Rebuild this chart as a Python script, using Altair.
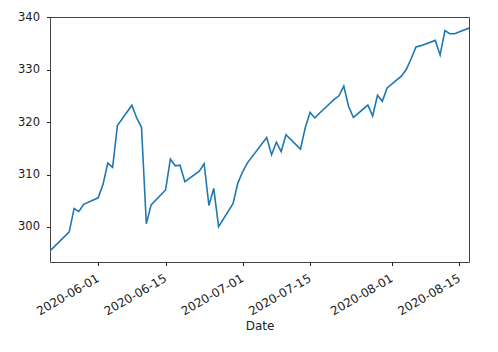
import altair as alt
import pandas as pd

dates = [
    "2020-05-22", "2020-05-26", "2020-05-27", "2020-05-28", "2020-05-29",
    "2020-06-01", "2020-06-02", "2020-06-03", "2020-06-04", "2020-06-05",
    "2020-06-08", "2020-06-09", "2020-06-10", "2020-06-11", "2020-06-12",
    "2020-06-15", "2020-06-16", "2020-06-17", "2020-06-18", "2020-06-19",
    "2020-06-22", "2020-06-23", "2020-06-24", "2020-06-25", "2020-06-26",
    "2020-06-29", "2020-06-30", "2020-07-01", "2020-07-02", "2020-07-06",
    "2020-07-07", "2020-07-08", "2020-07-09", "2020-07-10", "2020-07-13",
    "2020-07-14", "2020-07-15", "2020-07-16", "2020-07-17", "2020-07-20",
    "2020-07-21", "2020-07-22", "2020-07-23", "2020-07-24", "2020-07-27",
    "2020-07-28", "2020-07-29", "2020-07-30", "2020-07-31", "2020-08-03",
    "2020-08-04", "2020-08-05", "2020-08-06", "2020-08-07", "2020-08-10",
    "2020-08-11", "2020-08-12", "2020-08-13", "2020-08-14", "2020-08-17",
]
values = [
    295.44, 299.08, 303.53, 302.97, 304.32,
    305.55, 308.08, 312.18, 311.36, 319.34,
    323.20, 320.79, 319.00, 300.61, 304.21,
    307.05, 312.96, 311.66, 311.78, 308.64,
    310.62, 312.05, 304.09, 307.35, 300.05,
    304.46, 308.36, 310.52, 312.23, 317.05,
    313.78, 316.18, 314.38, 317.59, 314.84,
    318.92, 321.85, 320.79, 321.72, 324.32,
    325.01, 326.86, 322.96, 320.88, 323.22,
    321.17, 325.12, 323.96, 326.52, 328.79,
    330.06, 332.11, 334.33, 334.57, 335.57,
    332.80, 337.44, 336.83, 336.84, 337.91,
]
x_ticks = ["2020-06-01", "2020-06-15", "2020-07-01", "2020-07-15", "2020-08-01", "2020-08-15"]
y_ticks = [300, 310, 320, 330, 340]


def dt(s):
    y, m, d = (int(p) for p in s.split("-"))
    return alt.DateTime(year=y, month=m, date=d, utc=True)


df = pd.DataFrame({"Date": dates, "value": values})

font = "DejaVu Sans"

chart = (
    alt.Chart(df)
    .mark_line(color="#1f77b4", strokeWidth=1.6, clip=True)
    .encode(
        x=alt.X(
            "Date:T",
            scale=alt.Scale(type="utc", domain=[dt(dates[0]), dt(dates[-1])], nice=False),
            axis=alt.Axis(
                values=[dt(s) for s in x_ticks],
                labelExpr="utcFormat(datum.value, '%Y-%m-%d')",
                labelAngle=-30,
                labelAlign="right",
                labelBaseline="top",
                labelPadding=7,
                labelOffset=-3,
                tickSize=3.5,
                tickColor="#222",
                domain=False,
                grid=False,
                labelFont=font,
                labelFontSize=12,
                labelColor="#222",
                title="Date",
                titleFont=font,
                titleFontSize=12,
                titleFontWeight="normal",
                titleColor="#222",
                titlePadding=4,
                labelOverlap=False,
                labelBound=False,
                labelFlush=False,
            ),
        ),
        y=alt.Y(
            "value:Q",
            scale=alt.Scale(domain=[293.32, 340.03], nice=False, zero=False),
            axis=alt.Axis(
                values=y_ticks,
                tickSize=3.5,
                tickColor="#222",
                domain=False,
                grid=False,
                labelFont=font,
                labelFontSize=11.5,
                labelColor="#222",
                labelPadding=7,
                title=None,
            ),
        ),
    )
    .properties(
        width=419,
        height=245,
        background="white",
        autosize=alt.AutoSizeParams(type="none"),
        padding={"left": 50, "top": 17, "right": 29, "bottom": 90},
    )
    .configure_view(stroke="#444", strokeWidth=1)
)

chart.save("out.html", embed_options={"renderer": "svg", "actions": False})
